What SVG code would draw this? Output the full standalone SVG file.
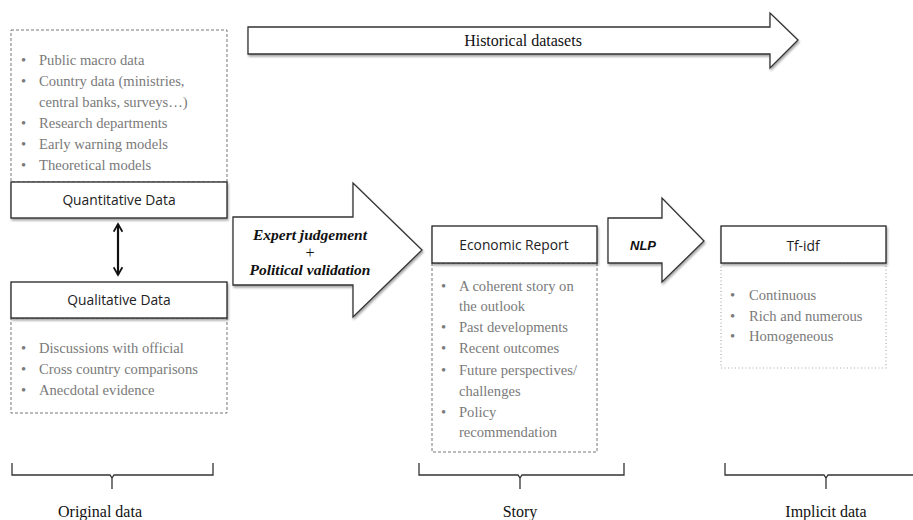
<svg xmlns="http://www.w3.org/2000/svg" width="913" height="520" viewBox="0 0 913 520">
<defs>
<filter id="sh" x="-10%" y="-10%" width="120%" height="130%">
<feDropShadow dx="1" dy="2" stdDeviation="1.2" flood-color="#000" flood-opacity="0.35"/>
</filter>
<marker id="ah" viewBox="0 0 10 10" refX="8" refY="5" markerWidth="5" markerHeight="5" orient="auto-start-reverse" markerUnits="strokeWidth">
<path d="M1,1 L8,5 L1,9" fill="none" stroke="#111" stroke-width="1.6"/>
</marker>
</defs>
<style>
.hdr{fill:#fff;stroke:#222;stroke-width:1.3}
.dash{fill:#fff;stroke:#777;stroke-width:1;stroke-dasharray:3 2}
.dot{fill:#fff;stroke:#aaa;stroke-width:1.2;stroke-dasharray:1 2.5}
.arr{fill:#fff;stroke:#333;stroke-width:1.3;stroke-linejoin:miter}
.ht{font-family:"Open Sans","Liberation Sans",sans-serif;font-size:13.8px;fill:#222;text-anchor:middle}
.bt{font-family:"Liberation Serif",serif;font-size:14.6px;fill:#7a7a7a}
.lb{font-family:"Liberation Serif",serif;font-size:16px;fill:#111;text-anchor:middle}
.bi{font-family:"Liberation Serif",serif;font-size:15.5px;font-weight:bold;font-style:italic;fill:#111;text-anchor:middle}
.br{fill:none;stroke:#333;stroke-width:1.3}
</style>

<g id="historical">
<path class="arr" filter="url(#sh)" d="M248,27 L770,27 L770,13 L798,40 L770,68 L770,54 L248,54 Z"/>
<text class="lb" x="523" y="46">Historical datasets</text>
</g>

<g id="quantitative">
<rect class="dash" x="11" y="30" width="216" height="152"/>
<g class="bt">
<text x="21" y="65">•</text><text x="39" y="65">Public macro data</text>
<text x="21" y="86">•</text><text x="39" y="86">Country data (ministries,</text>
<text x="39" y="107">central banks, surveys…)</text>
<text x="21" y="128">•</text><text x="39" y="128">Research departments</text>
<text x="21" y="149">•</text><text x="39" y="149">Early warning models</text>
<text x="21" y="170">•</text><text x="39" y="170">Theoretical models</text>
</g>
<rect class="hdr" filter="url(#sh)" x="11" y="182" width="216" height="36"/>
<text class="ht" x="119" y="205">Quantitative Data</text>
</g>

<g id="qualitative">
<rect class="dash" x="11" y="318" width="216" height="95"/>
<rect class="hdr" filter="url(#sh)" x="11" y="282" width="216" height="36"/>
<text class="ht" x="119" y="305">Qualitative Data</text>
<g class="bt">
<text x="21" y="353">•</text><text x="39" y="353">Discussions with official</text>
<text x="21" y="374">•</text><text x="39" y="374">Cross country comparisons</text>
<text x="21" y="395">•</text><text x="39" y="395">Anecdotal evidence</text>
</g>
</g>

<g id="connectors">
<line x1="118" y1="224" x2="118" y2="275" stroke="#111" stroke-width="2.2" marker-start="url(#ah)" marker-end="url(#ah)"/>
</g>

<g id="expert">
<path class="arr" filter="url(#sh)" d="M233,217 L353,217 L353,183 L422,250 L353,317 L353,285 L233,285 Z"/>
<text class="bi" x="310" y="240">Expert judgement</text>
<text class="lb" x="310" y="258">+</text>
<text class="bi" x="310" y="275" font-size="16px">Political validation</text>
</g>

<g id="report">
<rect class="dash" x="432" y="263" width="165" height="189"/>
<rect class="hdr" filter="url(#sh)" x="432" y="226" width="165" height="37"/>
<text class="ht" x="514" y="250">Economic Report</text>
<g class="bt">
<text x="441" y="291">•</text><text x="459" y="291">A coherent story on</text>
<text x="459" y="311">the outlook</text>
<text x="441" y="332">•</text><text x="459" y="332">Past developments</text>
<text x="441" y="353">•</text><text x="459" y="353">Recent outcomes</text>
<text x="441" y="375">•</text><text x="459" y="375">Future perspectives/</text>
<text x="459" y="396">challenges</text>
<text x="441" y="417">•</text><text x="459" y="417">Policy</text>
<text x="459" y="437">recommendation</text>
</g>
</g>

<g id="nlp">
<path class="arr" filter="url(#sh)" d="M608,218 L662,218 L662,198 L704,241 L662,282 L662,263 L608,263 Z"/>
<text x="643" y="250" font-family="Liberation Sans,sans-serif" font-size="13" font-weight="bold" font-style="italic" fill="#111" text-anchor="middle">NLP</text>
</g>

<g id="tfidf">
<rect class="dot" x="721" y="263" width="165" height="105"/>
<rect class="hdr" filter="url(#sh)" x="721" y="226" width="165" height="37"/>
<text class="ht" x="803" y="251">Tf-idf</text>
<g class="bt">
<text x="730" y="300">•</text><text x="749" y="300">Continuous</text>
<text x="730" y="321">•</text><text x="749" y="321">Rich and numerous</text>
<text x="730" y="341">•</text><text x="749" y="341">Homogeneous</text>
</g>
</g>

<g id="brackets">
<path class="br" d="M12,463 L12,475 L110,475 L112,478 L114,475 L213,475 L213,463 M112,478 L112,489"/>
<text class="lb" x="100" y="517" font-size="17px">Original data</text>
<path class="br" d="M419,463 L419,475 L518,475 L520,478 L522,475 L624,475 L624,463 M520,478 L520,489"/>
<text class="lb" x="520" y="517" font-size="17px">Story</text>
<path class="br" d="M725,463 L725,475 L824,475 L826,478 L828,475 L927,475 L927,463 M826,478 L826,489"/>
<text class="lb" x="826" y="517" font-size="17px">Implicit data</text>
</g>
</svg>
